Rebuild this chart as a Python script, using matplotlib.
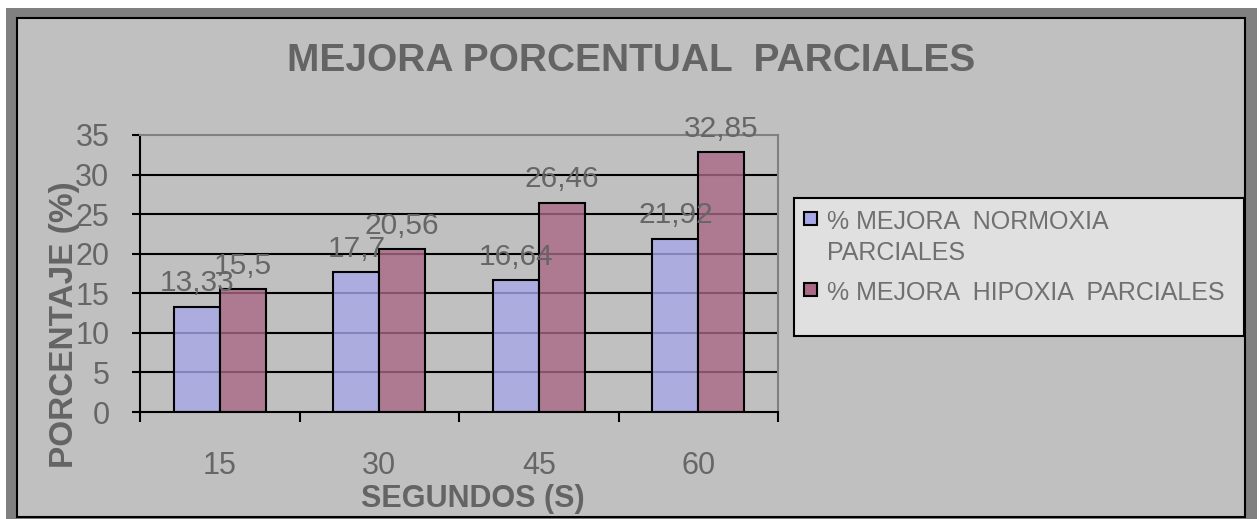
import matplotlib.pyplot as plt
from matplotlib.patches import Rectangle
import numpy as np

plt.rcParams['font.family'] = ['Liberation Sans', 'DejaVu Sans']

# data
segundos = ['15', '30', '45', '60']
normoxia = [13.33, 17.7, 16.64, 21.92]
hipoxia = [15.5, 20.56, 26.46, 32.85]
series_names = ['% MEJORA  NORMOXIA\nPARCIALES', '% MEJORA  HIPOXIA  PARCIALES']
y_ticks = [0, 5, 10, 15, 20, 25, 30, 35]

colors = [(0.655, 0.655, 0.91, 0.8), (0.665, 0.41, 0.53, 0.8)]
text_gray = '#666666'

W, H = 1259, 519


def fx(px):
    return px / W


def fy(py):
    return 1 - py / H


fig = plt.figure(figsize=(W / 100, H / 100), dpi=100)
fig.patch.set_facecolor('white')

# outer frame (gray border + black line + gray fill)
fig.add_artist(Rectangle((fx(6), 0), fx(1257) - fx(6), fy(8), transform=fig.transFigure,
                         facecolor='#808080', edgecolor='none', zorder=0))
fig.add_artist(Rectangle((fx(17), fy(517)), (1245 - 17) / W, (517 - 18) / H,
                         transform=fig.transFigure, facecolor='#c0c0c0',
                         edgecolor='black', lw=1.5, zorder=0))

ax = fig.add_axes([fx(140), fy(412), (778 - 140) / W, (412 - 135) / H])
ax.set_facecolor('none')

x = np.arange(len(segundos))
w = 0.2875
all_series = [normoxia, hipoxia]
offsets = [-w / 2, w / 2]

# gridlines behind the (semi transparent) bars
ax.hlines(y_ticks[1:-1], -0.5, len(segundos) - 0.5, colors='black', lw=1.5, zorder=1)

for vals, off, col in zip(all_series, offsets, colors):
    ax.bar(x + off, vals, w, color=col, edgecolor='black', lw=1.5, zorder=2)
    for xi, v in zip(x, vals):
        ax.annotate(f"{v:g}".replace('.', ','), (xi + off, v), xytext=(0, 11),
                    textcoords='offset points', ha='center', va='baseline',
                    fontsize=21.5, color=text_gray, zorder=4)

ax.set_xlim(-0.5, len(segundos) - 0.5)
ax.set_ylim(0, 35)
ax.set_yticks(y_ticks)
ax.tick_params(axis='y', direction='out', length=6, width=1.5, color='black',
               labelsize=22, labelcolor=text_gray, pad=16)

ax.set_xticks(np.arange(len(segundos) + 1) - 0.5)
ax.set_xticklabels([])
ax.set_xticks(x, minor=True)
ax.set_xticklabels(segundos, minor=True)
ax.tick_params(axis='x', which='major', direction='out', length=7, width=1.5, color='black')
ax.tick_params(axis='x', which='minor', length=0, labelsize=22, labelcolor=text_gray, pad=28)

for s in ['left', 'bottom']:
    ax.spines[s].set_color('black')
    ax.spines[s].set_linewidth(1.5)
for s in ['top', 'right']:
    ax.spines[s].set_color('#808080')
    ax.spines[s].set_linewidth(1.5)

fig.text(fx(631), fy(71), 'MEJORA PORCENTUAL  PARCIALES', fontsize=28, weight='bold',
         color='#646464', ha='center', va='baseline')
fig.text(fx(73), fy(325), 'PORCENTAJE (%)', rotation=90, rotation_mode='anchor',
         ha='center', va='baseline', fontsize=24, weight='bold', color='#646464')
fig.text(fx(473), fy(507), 'SEGUNDOS (S)', ha='center', va='baseline', fontsize=22,
         weight='bold', color='#646464')

# legend box
fig.add_artist(Rectangle((fx(794), fy(336)), (1244 - 794) / W, (336 - 198) / H,
                         transform=fig.transFigure, facecolor='#e0e0e0',
                         edgecolor='black', lw=1.5, zorder=1))
handle_y = [218, 289]
last_baseline = [260, 300]
for name, col, hy, by in zip(series_names, colors, handle_y, last_baseline):
    fig.add_artist(Rectangle((fx(804), fy(hy + 6.5)), 13 / W, 13 / H,
                             transform=fig.transFigure, facecolor=col[:3],
                             edgecolor='black', lw=1.5, zorder=2))
    fig.text(fx(827), fy(by), name, fontsize=18, color='#707070',
             ha='left', va='baseline', linespacing=1.35, zorder=3)

fig.savefig('out.png', dpi=100, facecolor=fig.get_facecolor())
